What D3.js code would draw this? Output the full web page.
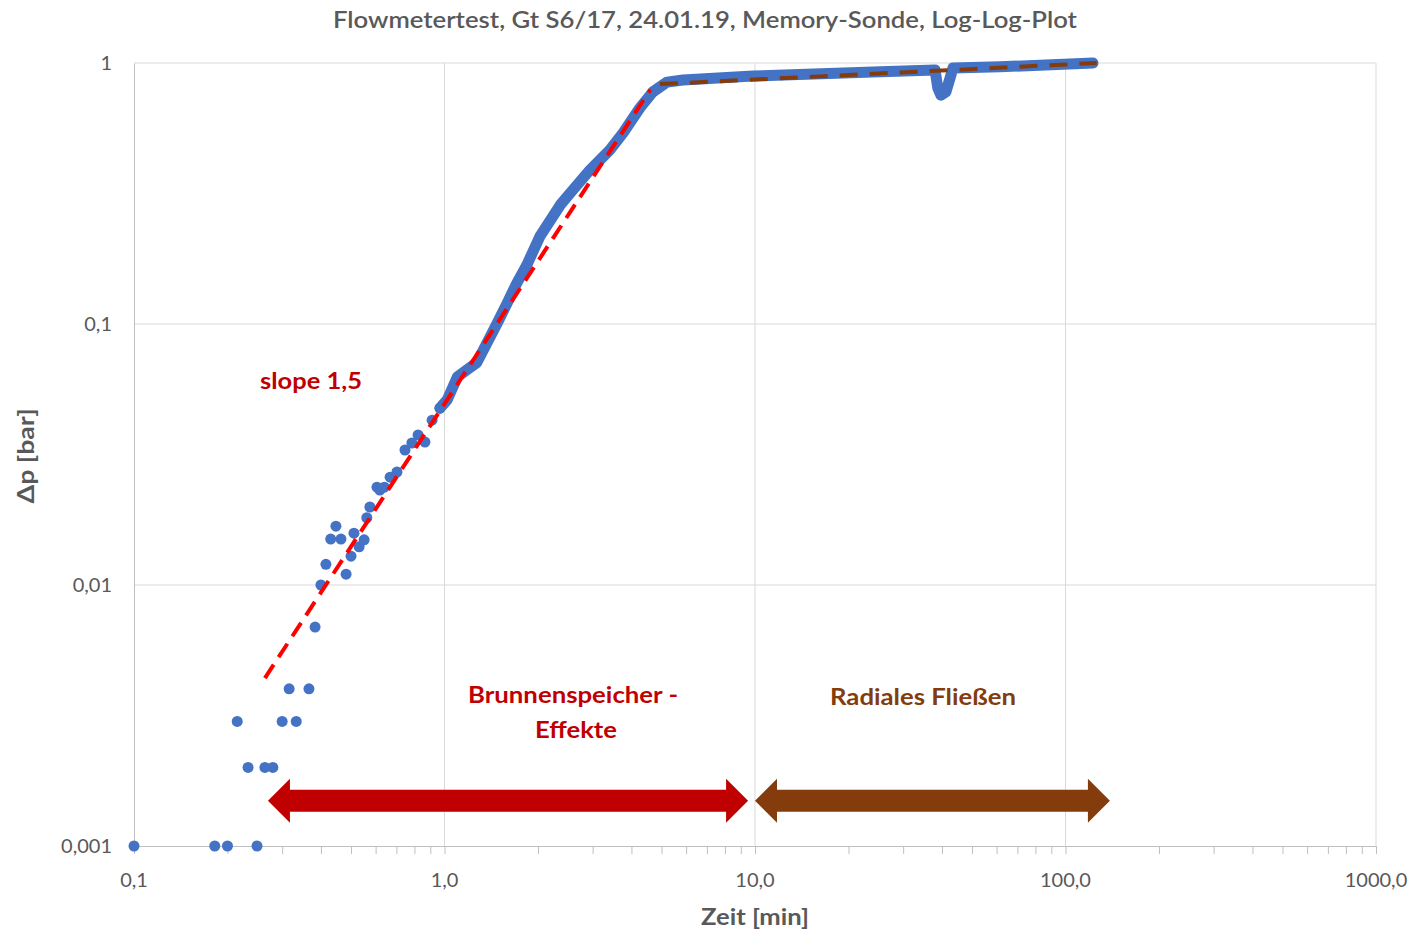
<!DOCTYPE html>
<html>
<head>
<meta charset="utf-8">
<script src="https://cdn.jsdelivr.net/npm/d3@7"></script>
<style>
  body { margin: 0; background: #fff; }
  text { font-family: Lato, "Open Sans", sans-serif; }
</style>
</head>
<body>
<div id="chart"></div>
<script>
// measured points: Zeit [min] / dp [bar]
var scatterT = [0.1, 0.182, 0.2, 0.249, 0.215, 0.233, 0.264, 0.28, 0.3, 0.316, 0.333, 0.366,
  0.383, 0.4, 0.415, 0.43, 0.447, 0.464, 0.482, 0.5, 0.511, 0.531, 0.551, 0.562, 0.575,
  0.606, 0.619, 0.64, 0.668, 0.703, 0.746, 0.785, 0.822, 0.865, 0.912, 0.967];
var scatterP = [0.001, 0.001, 0.001, 0.001, 0.003, 0.002, 0.002, 0.002, 0.003, 0.004, 0.003, 0.004,
  0.0069, 0.01, 0.012, 0.015, 0.0168, 0.015, 0.011, 0.0129, 0.0158, 0.014, 0.0149, 0.0181, 0.0199,
  0.0237, 0.0231, 0.0237, 0.0259, 0.0271, 0.0329, 0.035, 0.0376, 0.0353, 0.0428, 0.0476];

// dense part of the record (drawn as a thick trace)
var traceT = [0.967, 1.02, 1.10, 1.18, 1.27, 1.37, 1.48, 1.59, 1.71, 1.84, 2.03, 2.36, 2.59, 2.94,
  3.41, 3.76, 4.26, 4.69, 5.21, 5.86, 9.85, 24.0, 38.0, 38.8, 39.7, 41.2, 42.5, 43.4, 61.5, 122.6];
var traceP = [0.0476, 0.0512, 0.0627, 0.0667, 0.071, 0.0845, 0.101, 0.12, 0.1435, 0.168, 0.217, 0.286,
  0.326, 0.389, 0.465, 0.54, 0.673, 0.775, 0.845, 0.861, 0.891, 0.924, 0.94, 0.801, 0.753, 0.775,
  0.877, 0.957, 0.967, 1.0];

// fitted lines
var slopeLineT = [0.264, 4.6];
var slopeLineP = [0.0044, 0.79];
var radialLineT = [4.94, 126];
var radialLineP = [0.83, 1.0];

// arrows (annotation, data coords)
var arrowRed = { t0: 0.27, t1: 9.5, p: 0.00149 };
var arrowBrown = { t0: 10.0, t1: 139, p: 0.00149 };

var xTicks = [0.1, 1, 10, 100, 1000];
var xTickLabels = ["0,1", "1,0", "10,0", "100,0", "1000,0"];
var yTicks = [0.001, 0.01, 0.1, 1];
var yTickLabels = ["0,001", "0,01", "0,1", "1"];

var W = 1414, H = 933;
var margin = { top: 63, right: 38, bottom: 87, left: 134 };

var svg = d3.select("#chart").append("svg")
  .attr("width", W).attr("height", H);

var x = d3.scaleLog().domain([0.1, 1000]).range([margin.left, W - margin.right]);
var y = d3.scaleLog().domain([0.001, 1]).range([H - margin.bottom, margin.top]);

var grey = "#595959";

// gridlines
svg.append("g").selectAll("line").data(xTicks.slice(1)).enter().append("line")
  .attr("x1", d => x(d)).attr("x2", d => x(d))
  .attr("y1", y(1)).attr("y2", y(0.001))
  .attr("stroke", "#d9d9d9").attr("stroke-width", 1);
svg.append("g").selectAll("line").data(yTicks.slice(1)).enter().append("line")
  .attr("x1", x(0.1)).attr("x2", x(1000))
  .attr("y1", d => y(d)).attr("y2", d => y(d))
  .attr("stroke", "#d9d9d9").attr("stroke-width", 1);

// x axis with minor ticks
var xAxis = d3.axisBottom(x).tickValues(x.ticks()).tickSize(8).tickFormat("");
var gx = svg.append("g").attr("transform", `translate(0, ${y(0.001)})`).call(xAxis);
gx.select(".domain").attr("stroke", "#bfbfbf");
gx.selectAll(".tick line").attr("stroke", "#bfbfbf");
svg.append("g").selectAll("text").data(xTicks).enter().append("text")
  .attr("x", d => x(d)).attr("y", y(0.001) + 41)
  .attr("text-anchor", "middle").attr("fill", grey).attr("font-size", 20)
  .text((d, i) => xTickLabels[i]);

// y axis
var yAxis = d3.axisLeft(y).tickValues(yTicks).tickSize(0).tickFormat("");
var gy = svg.append("g").attr("transform", `translate(${x(0.1)}, 0)`).call(yAxis);
gy.select(".domain").attr("stroke", "#bfbfbf");
svg.append("g").selectAll("text").data(yTicks).enter().append("text")
  .attr("x", x(0.1) - 22).attr("y", d => y(d) + 7)
  .attr("text-anchor", "end").attr("fill", grey).attr("font-size", 20)
  .text((d, i) => yTickLabels[i]);

// text helper: stretch to the width seen in the reference
function label(tx, ty, str, size, weight, color, len) {
  return svg.append("text").attr("x", tx).attr("y", ty)
    .attr("text-anchor", "middle").attr("fill", color)
    .attr("font-size", size).attr("font-weight", weight)
    .attr("textLength", len).attr("lengthAdjust", "spacingAndGlyphs")
    .text(str);
}

// titles
label(705, 28, "Flowmetertest, Gt S6/17, 24.01.19, Memory-Sonde, Log-Log-Plot", 23, 600, grey, 744);
label(x(10), 925, "Zeit [min]", 23, "bold", grey, 108);
label(0, 0, "Δp [bar]", 23, "bold", grey, 95)
  .attr("transform", "translate(34, 456) rotate(-90)");

// measured data
var blue = "#4472c4";
var trace = traceT.map((t, i) => [t, traceP[i]]);
svg.append("path").datum(trace).attr("d", d3.line().x(d => x(d[0])).y(d => y(d[1])))
  .attr("fill", "none").attr("stroke", blue).attr("stroke-width", 11)
  .attr("stroke-linejoin", "round").attr("stroke-linecap", "round");
svg.append("g").selectAll("circle").data(scatterT).enter().append("circle")
  .attr("cx", d => x(d)).attr("cy", (d, i) => y(scatterP[i])).attr("r", 5.5)
  .attr("fill", blue);

// slope 1.5 line
svg.append("path").datum(slopeLineT.map((t, i) => [t, slopeLineP[i]]))
  .attr("d", d3.line().x(d => x(d[0])).y(d => y(d[1])))
  .attr("stroke", "#ff0000").attr("stroke-width", 4).attr("stroke-dasharray", "16,9")
  .attr("fill", "none");
// radial flow line
svg.append("path").datum(radialLineT.map((t, i) => [t, radialLineP[i]]))
  .attr("d", d3.line().x(d => x(d[0])).y(d => y(d[1])))
  .attr("stroke", "#843c0c").attr("stroke-width", 4).attr("stroke-dasharray", "18,12")
  .attr("fill", "none");

// double-headed arrows
function arrow(a, color) {
  var x0 = x(a.t0), x1 = x(a.t1), yc = y(a.p);
  var hw = 11, hh = 22, hl = 22;
  var pts = [[x0, yc], [x0 + hl, yc - hh], [x0 + hl, yc - hw], [x1 - hl, yc - hw], [x1 - hl, yc - hh],
    [x1, yc], [x1 - hl, yc + hh], [x1 - hl, yc + hw], [x0 + hl, yc + hw], [x0 + hl, yc + hh]];
  svg.append("polygon").attr("points", pts.map(p => p.join(",")).join(" "))
    .attr("fill", color);
}
arrow(arrowRed, "#c00000");
arrow(arrowBrown, "#843c0c");

// annotations
label(311, 389, "slope 1,5", 23, "bold", "#c00000", 102);
label(573, 703, "Brunnenspeicher -", 23, "bold", "#c00000", 210);
label(576, 738, "Effekte", 23, "bold", "#c00000", 82);
label(923, 705, "Radiales Fließen", 23, "bold", "#843c0c", 186);
</script>
</body>
</html>
